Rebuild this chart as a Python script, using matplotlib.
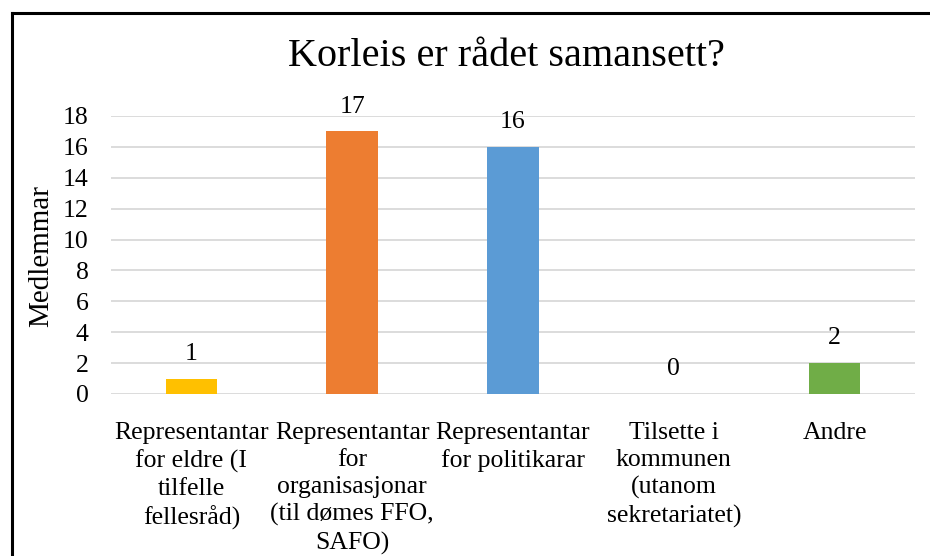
import matplotlib
matplotlib.use("Agg")
import matplotlib.pyplot as plt
from matplotlib.lines import Line2D

categories = [
    "Representantar\nfor eldre (I\ntilfelle\nfellesråd)",
    "Representantar\nfor\norganisasjonar\n(til dømes FFO,\nSAFO)",
    "Representantar\nfor politikarar",
    "Tilsette i\nkommunen\n(utanom\nsekretariatet)",
    "Andre",
]
values = [1, 17, 16, 0, 2]
colors = ["#FFC000", "#ED7D31", "#5B9BD5", "#A5A5A5", "#70AD47"]
yticks = [0, 2, 4, 6, 8, 10, 12, 14, 16, 18]
title = "Korleis er rådet samansett?"
ylabel = "Medlemmar"

FONT = ["Liberation Serif", "DejaVu Serif"]
plt.rcParams["font.family"] = FONT
FS = 18.5

fig = plt.figure(figsize=(9.3, 5.56), dpi=100)
ax = fig.add_axes([111/930, 1-394/556, (915-111)/930, (394-116)/556])

x = list(range(len(categories)))
bars = ax.bar(x, values, width=0.32, color=colors, zorder=3)
ax.set_xlim(-0.5, len(categories) - 0.5)
ax.set_ylim(0, 18)
ax.set_yticks(yticks)
ax.set_yticklabels([str(t) for t in yticks], fontsize=FS)
ax.tick_params(axis="y", length=0, pad=16)
ax.tick_params(axis="x", length=0, pad=20)
ax.set_xticks(x)
ax.set_xticklabels(categories, fontsize=FS, linespacing=1.3, va="top")
ax.grid(axis="y", color="#D9D9D9", linewidth=1.3, zorder=0)
for s in ax.spines.values():
    s.set_visible(False)

for xi, v in zip(x, values):
    ax.annotate(str(v), (xi, v), xytext=(0, 10), textcoords="offset points",
                ha="center", va="bottom", fontsize=FS)

ax.set_ylabel(ylabel, fontsize=21, va="center")
ax.yaxis.set_label_coords((41-111)/804, (394-256)/278)
fig.text(506/930, 1-57/556, title, ha="center", va="center", fontsize=29)

# chart border (top and left visible)
fig.add_artist(Line2D([12/930, 1], [1-13/556, 1-13/556], color="black", lw=2.2, transform=fig.transFigure))
fig.add_artist(Line2D([12/930, 12/930], [0, 1-13/556], color="black", lw=2.2, transform=fig.transFigure))

fig.savefig("out.png", dpi=100)
